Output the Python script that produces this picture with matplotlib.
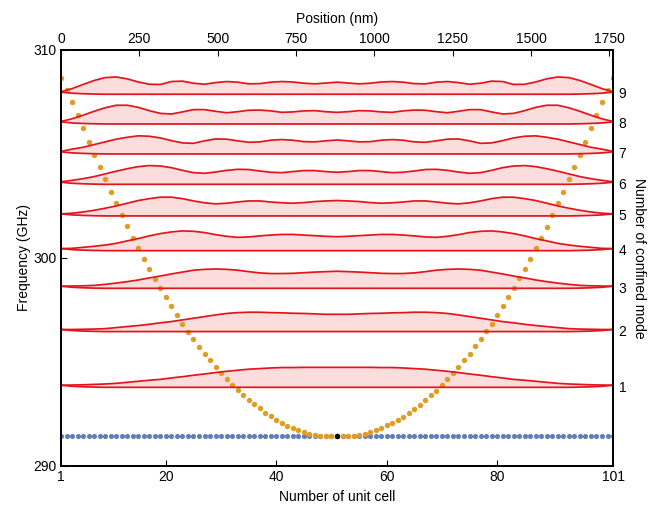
import matplotlib
matplotlib.use("Agg")
import matplotlib.pyplot as plt
import numpy as np

plt.rcParams["font.family"] = ["Liberation Sans", "DejaVu Sans"]
plt.rcParams["font.size"] = 10

# unit cells 1..101
cells = np.arange(1, 102)

# local (band edge) frequency per unit cell, GHz
local_freq = [
    308.65, 308.08, 307.50, 306.88, 306.24, 305.59, 304.97, 304.36, 303.78, 303.17,
    302.63, 302.08, 301.52, 300.98, 300.50, 299.95, 299.49, 299.00, 298.54, 298.11,
    297.69, 297.26, 296.84, 296.46, 296.11, 295.74, 295.40, 295.08, 294.78, 294.49,
    294.17, 293.89, 293.64, 293.41, 293.19, 292.98, 292.77, 292.56, 292.39, 292.22,
    292.07, 291.94, 291.83, 291.73, 291.63, 291.55, 291.50, 291.45, 291.44, 291.43,
    291.43,
    291.43, 291.44, 291.45, 291.49, 291.54, 291.62, 291.72, 291.83, 291.96, 292.08,
    292.21, 292.36, 292.53, 292.73, 292.93, 293.16, 293.40, 293.61, 293.89, 294.18,
    294.47, 294.77, 295.08, 295.40, 295.77, 296.12, 296.48, 296.84, 297.28, 297.69,
    298.13, 298.57, 299.02, 299.49, 299.95, 300.48, 300.98, 301.50, 302.08, 302.63,
    303.17, 303.78, 304.36, 304.97, 305.59, 306.24, 306.88, 307.50, 308.08, 308.65,
]
flat_freq = [291.43] * 101
min_cell = 51

# confined modes: baseline frequency and envelope height (GHz) sampled every 2 cells
mode_numbers = [1, 2, 3, 4, 5, 6, 7, 8, 9]
mode_freq = [293.78, 296.46, 298.54, 300.35, 302.02, 303.54, 305.00, 306.44, 307.87]
sample_cells = np.arange(1, 102, 2)

edge_lift = [0.10, 0.05, 0.025, 0.01] + [0.0] * 43 + [0.01, 0.025, 0.05, 0.10]

mode_1 = [
    0.10, 0.11, 0.12, 0.14, 0.16, 0.19, 0.24, 0.29, 0.34, 0.38, 0.45, 0.51, 0.58, 0.64, 0.71,
    0.77, 0.82, 0.87, 0.90, 0.93, 0.95, 0.95, 0.96, 0.96, 0.96, 0.96,
    0.96, 0.96, 0.96, 0.95, 0.95, 0.93, 0.90, 0.87, 0.82, 0.77, 0.71, 0.64, 0.58, 0.51,
    0.45, 0.38, 0.34, 0.29, 0.24, 0.19, 0.16, 0.14, 0.12, 0.11, 0.10,
]
mode_2 = [
    0.10, 0.10, 0.11, 0.12, 0.14, 0.19, 0.24, 0.29, 0.35, 0.42, 0.48, 0.56, 0.64, 0.72, 0.80,
    0.87, 0.91, 0.93, 0.93, 0.91, 0.90, 0.88, 0.87, 0.85, 0.83, 0.83,
    0.83, 0.85, 0.87, 0.88, 0.90, 0.91, 0.93, 0.93, 0.91, 0.87, 0.80, 0.72, 0.64, 0.56,
    0.48, 0.42, 0.35, 0.29, 0.24, 0.19, 0.14, 0.12, 0.11, 0.10, 0.10,
]
mode_3 = [
    0.10, 0.11, 0.12, 0.14, 0.19, 0.25, 0.32, 0.40, 0.50, 0.59, 0.69, 0.78, 0.87, 0.91, 0.93,
    0.91, 0.87, 0.80, 0.74, 0.71, 0.71, 0.72, 0.75, 0.78, 0.80, 0.82,
    0.80, 0.78, 0.75, 0.72, 0.71, 0.71, 0.74, 0.80, 0.87, 0.91, 0.93, 0.91, 0.87, 0.78,
    0.69, 0.59, 0.50, 0.40, 0.32, 0.25, 0.19, 0.14, 0.12, 0.11, 0.10,
]
mode_4 = [
    0.10, 0.11, 0.16, 0.21, 0.27, 0.35, 0.47, 0.58, 0.71, 0.82, 0.90, 0.95, 0.93, 0.87, 0.77,
    0.69, 0.64, 0.66, 0.71, 0.75, 0.78, 0.78, 0.75, 0.72, 0.69, 0.67,
    0.69, 0.72, 0.75, 0.78, 0.78, 0.75, 0.71, 0.66, 0.64, 0.69, 0.77, 0.87, 0.93, 0.95,
    0.90, 0.82, 0.71, 0.58, 0.47, 0.35, 0.27, 0.21, 0.16, 0.11, 0.10,
]
mode_5 = [
    0.10, 0.13, 0.19, 0.27, 0.37, 0.48, 0.61, 0.74, 0.83, 0.90, 0.90, 0.83, 0.72, 0.63, 0.58,
    0.61, 0.67, 0.72, 0.72, 0.67, 0.63, 0.61, 0.64, 0.69, 0.72, 0.74,
    0.72, 0.69, 0.64, 0.61, 0.63, 0.67, 0.72, 0.72, 0.67, 0.61, 0.58, 0.63, 0.72, 0.83,
    0.90, 0.90, 0.83, 0.74, 0.61, 0.48, 0.37, 0.27, 0.19, 0.13, 0.10,
]
mode_6 = [
    0.12, 0.19, 0.27, 0.37, 0.50, 0.63, 0.75, 0.85, 0.90, 0.88, 0.80, 0.67, 0.56, 0.53, 0.59,
    0.67, 0.72, 0.71, 0.64, 0.58, 0.56, 0.61, 0.66, 0.66, 0.61, 0.58,
    0.61, 0.66, 0.66, 0.61, 0.56, 0.58, 0.64, 0.71, 0.72, 0.67, 0.59, 0.53, 0.56, 0.67,
    0.80, 0.88, 0.90, 0.85, 0.75, 0.63, 0.50, 0.37, 0.27, 0.19, 0.12,
]
mode_7 = [
    0.12, 0.23, 0.32, 0.45, 0.58, 0.71, 0.80, 0.87, 0.85, 0.77, 0.64, 0.53, 0.51, 0.63, 0.72,
    0.71, 0.63, 0.56, 0.58, 0.66, 0.69, 0.66, 0.59, 0.58, 0.63, 0.67,
    0.63, 0.58, 0.59, 0.66, 0.69, 0.66, 0.58, 0.56, 0.63, 0.71, 0.72, 0.63, 0.51, 0.53,
    0.64, 0.77, 0.85, 0.87, 0.80, 0.71, 0.58, 0.45, 0.32, 0.23, 0.12,
]
mode_8 = [
    0.12, 0.25, 0.42, 0.61, 0.78, 0.90, 0.90, 0.80, 0.64, 0.51, 0.48, 0.58, 0.69, 0.69, 0.61,
    0.54, 0.59, 0.66, 0.67, 0.63, 0.56, 0.58, 0.63, 0.64, 0.59, 0.56,
    0.59, 0.64, 0.63, 0.58, 0.56, 0.63, 0.67, 0.66, 0.59, 0.54, 0.61, 0.69, 0.69, 0.58,
    0.48, 0.51, 0.64, 0.80, 0.90, 0.90, 0.78, 0.61, 0.42, 0.25, 0.12,
]
mode_9 = [
    0.12, 0.27, 0.47, 0.66, 0.80, 0.83, 0.74, 0.59, 0.48, 0.47, 0.61, 0.63, 0.53, 0.48, 0.56,
    0.61, 0.58, 0.50, 0.51, 0.58, 0.61, 0.59, 0.53, 0.50, 0.54, 0.58,
    0.54, 0.50, 0.53, 0.59, 0.61, 0.58, 0.51, 0.50, 0.58, 0.61, 0.56, 0.48, 0.53, 0.63,
    0.61, 0.47, 0.48, 0.59, 0.74, 0.83, 0.80, 0.66, 0.47, 0.27, 0.12,
]
mode_heights = [mode_1, mode_2, mode_3, mode_4, mode_5, mode_6, mode_7, mode_8, mode_9]

position_ticks = [0, 250, 500, 750, 1000, 1250, 1500, 1750]
cell_ticks = [1, 20, 40, 60, 80, 101]
freq_ticks = [290, 300, 310]

red = "#e5131b"
fig = plt.figure(figsize=(6.56, 5.07), dpi=100)
ax = fig.add_axes([0.093, 0.081, 0.8415, 0.8205])

ax.plot(cells, flat_freq, "o", color="#5e81b5", ms=3.7, mec="none", zorder=2)
ax.plot(cells, local_freq, "o", color="#e19c24", ms=3.9, mec="none", zorder=2)
ax.plot([min_cell], [flat_freq[min_cell - 1]], "o", color="black", ms=3.9, mec="none", zorder=4)

lift = np.asarray(edge_lift)
for base, heights in zip(mode_freq, mode_heights):
    top = base + np.asarray(heights)
    bottom = base + lift
    ax.fill_between(sample_cells, bottom, top, color="#f7b0b0", alpha=0.42, lw=0, zorder=1)
    ax.plot(sample_cells, top, color=red, lw=1.25, zorder=3)
    ax.plot(sample_cells, bottom, color=red, lw=1.25, zorder=3)

ax.set_xlim(1, 101)
ax.set_ylim(290, 310)
ax.set_xticks(cell_ticks)
ax.set_yticks(freq_ticks)
ax.set_xlabel("Number of unit cell", labelpad=4)
ax.set_ylabel("Frequency (GHz)", labelpad=2)
ax.tick_params(direction="in", length=4, width=0.8, pad=3, labelsize=10)

ax_top = ax.twiny()
ax_top.set_xlim(0, 1762)
ax_top.set_xticks(position_ticks)
ax_top.set_xlabel("Position (nm)", labelpad=6)
ax_top.tick_params(direction="in", length=4, width=0.8, pad=3, labelsize=10)

ax_right = ax.twinx()
ax_right.set_ylim(290, 310)
ax_right.set_yticks([f + 0.06 for f in mode_freq])
ax_right.set_yticklabels([str(m) for m in mode_numbers])
ax_right.set_ylabel("Number of confined mode", rotation=270, labelpad=14)
ax_right.tick_params(length=0, pad=4, labelsize=10)

for a in (ax, ax_top, ax_right):
    for spine in a.spines.values():
        spine.set_linewidth(1.1)

fig.savefig("out.png", dpi=100)
